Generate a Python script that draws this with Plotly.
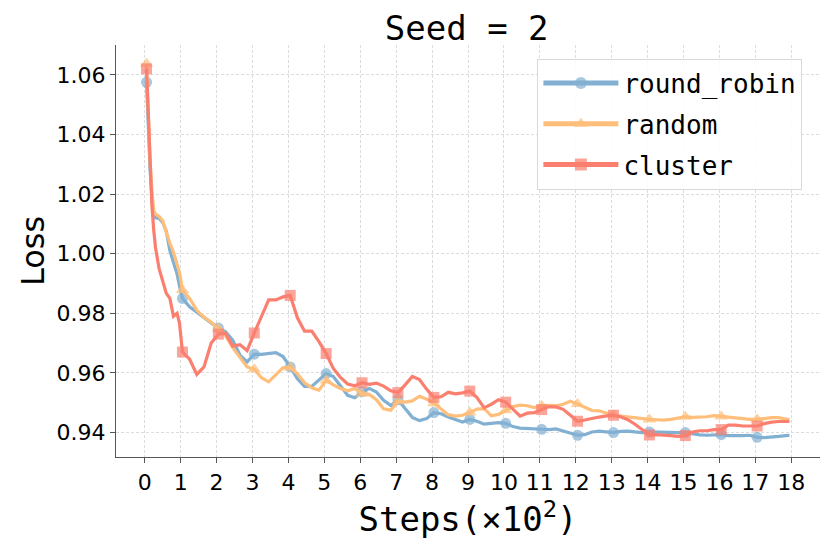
import plotly.graph_objects as go

# training steps in units of 100
steps = [
    0.05, 0.1, 0.15, 0.2, 0.25, 0.3, 0.4, 0.5, 0.6, 0.7, 0.8, 0.9, 0.97,
    1.05, 1.25, 1.45, 1.65, 1.85, 2.05, 2.25, 2.45, 2.65, 2.85,
    3.05, 3.25, 3.45, 3.65, 3.85, 4.05, 4.25, 4.45, 4.65, 4.85,
    5.05, 5.25, 5.45, 5.65, 5.85, 6.05, 6.25, 6.45, 6.65, 6.85,
    7.05, 7.25, 7.45, 7.65, 7.85, 8.05, 8.25, 8.45, 8.65, 8.85,
    9.05, 9.25, 9.45, 9.65, 9.85, 10.05, 10.25, 10.45, 10.65, 10.85,
    11.05, 11.25, 11.45, 11.65, 11.85, 12.05, 12.25, 12.45, 12.65, 12.85,
    13.05, 13.25, 13.45, 13.65, 13.85, 14.05, 14.25, 14.45, 14.65, 14.85,
    15.05, 15.25, 15.45, 15.65, 15.85, 16.05, 16.25, 16.45, 16.65, 16.85,
    17.05, 17.25, 17.45, 17.65, 17.85, 17.95,
]

round_robin = [
    1.0575, 1.040, 1.028, 1.019, 1.013, 1.012, 1.0118, 1.0105, 1.0075, 1.001, 0.9975, 0.9932, 0.989,
    0.985, 0.9822, 0.9803, 0.9787, 0.9768, 0.9751, 0.9738, 0.971, 0.966, 0.9637,
    0.9663, 0.9662, 0.9665, 0.9668, 0.9655, 0.962, 0.958, 0.9555, 0.9555, 0.9576,
    0.9598, 0.9588, 0.9555, 0.9525, 0.9517, 0.9537, 0.9548, 0.9536, 0.9508, 0.9491,
    0.951, 0.9479, 0.9451, 0.944, 0.9447, 0.9467, 0.9463, 0.9452, 0.9443, 0.9435,
    0.9444, 0.9438, 0.9428, 0.9431, 0.9433, 0.9431, 0.942, 0.9415, 0.9413, 0.9413,
    0.9411, 0.941, 0.9412, 0.9405, 0.9398, 0.9391, 0.9393, 0.9402, 0.9405, 0.9402,
    0.94, 0.9404, 0.9405, 0.9402, 0.94, 0.9402, 0.9401, 0.9402, 0.9401, 0.94,
    0.94, 0.9396, 0.9392, 0.9391, 0.9393, 0.9393, 0.939, 0.9389, 0.939, 0.9391,
    0.9384, 0.9383, 0.9384, 0.9387, 0.939, 0.9391,
]

random_ = [
    1.0637, 1.046, 1.031, 1.021, 1.0145, 1.0133, 1.0125, 1.011, 1.007, 1.0035, 1.0005, 0.996, 0.9935,
    0.9878, 0.985, 0.981, 0.9787, 0.977, 0.9748, 0.9725, 0.9685, 0.9652, 0.962,
    0.9612, 0.9584, 0.957, 0.9595, 0.9618, 0.9618, 0.9597, 0.9567, 0.955, 0.9542,
    0.9575, 0.956, 0.9548, 0.954, 0.9548, 0.953, 0.9528, 0.951, 0.948, 0.9475,
    0.9505, 0.9502, 0.9506, 0.9522, 0.9512, 0.9498, 0.948, 0.946, 0.9455, 0.9458,
    0.9467, 0.9479, 0.948, 0.9456, 0.9461, 0.9475, 0.9487, 0.9492, 0.949, 0.9484,
    0.949, 0.9491, 0.949, 0.9495, 0.9505, 0.9496, 0.9486, 0.9474, 0.9473, 0.9465,
    0.9458, 0.9455, 0.9452, 0.945, 0.9445, 0.9444, 0.9443, 0.9442, 0.9444, 0.9448,
    0.9453, 0.9451, 0.9451, 0.9453, 0.9457, 0.9454, 0.9453, 0.945, 0.9446, 0.9444,
    0.9444, 0.9448, 0.945, 0.945, 0.9446, 0.9443,
]

cluster = [
    1.062, 1.045, 1.028, 1.016, 1.008, 1.002, 0.995, 0.9905, 0.9867, 0.985, 0.979, 0.980, 0.9765,
    0.967, 0.9646, 0.9595, 0.962, 0.970, 0.973, 0.9733, 0.969, 0.9695, 0.9675,
    0.9734, 0.979, 0.9845, 0.9845, 0.9855, 0.986, 0.9785, 0.974, 0.974, 0.9705,
    0.9665, 0.9615, 0.9585, 0.9563, 0.9557, 0.9567, 0.9562, 0.9566, 0.9556, 0.954,
    0.9534, 0.956, 0.9588, 0.9578, 0.9545, 0.9518, 0.952, 0.9535, 0.953, 0.9533,
    0.9539, 0.9517, 0.9483, 0.9495, 0.951, 0.9502, 0.948, 0.9455, 0.9465, 0.9467,
    0.9477, 0.9487, 0.9486, 0.9478, 0.9458, 0.9438, 0.9442, 0.9448, 0.9452, 0.9456,
    0.9458, 0.9453, 0.9443, 0.9428, 0.941, 0.9392, 0.9393, 0.9392, 0.939, 0.9387,
    0.939, 0.9402, 0.9406, 0.9406, 0.941, 0.941, 0.9425, 0.9425, 0.9422, 0.9422,
    0.9422, 0.943, 0.9435, 0.9437, 0.9437, 0.9437,
]

x_ticks = list(range(0, 19))
y_ticks = [0.94, 0.96, 0.98, 1.00, 1.02, 1.04, 1.06]

series = [
    ("round_robin", round_robin, "#82B0D2", "circle", 11),
    ("random", random_, "#FFBE7A", "triangle-up", 12),
    ("cluster", cluster, "#FA7F6F", "square", 11),
]

MONO = "DejaVu Sans Mono"
SANS = "DejaVu Sans"

fig = go.Figure()

for name, values, color, symbol, size in series:
    # one marker every 100 steps, like matplotlib's markevery
    sizes = [size if round(s * 100) % 100 == 5 else 0 for s in steps]
    fig.add_trace(
        go.Scatter(
            x=steps,
            y=values,
            name=name,
            legendgroup=name,
            mode="lines+markers",
            line=dict(color=color, width=3.2),
            marker=dict(symbol=symbol, size=sizes, color=color, line=dict(width=0)),
        )
    )

axis_common = dict(
    showline=True,
    linecolor="#555555",
    linewidth=1.3,
    ticks="outside",
    ticklen=5,
    tickcolor="#555555",
    showgrid=True,
    gridcolor="#dcdcdc",
    gridwidth=1,
    griddash="3px,2px",
    zeroline=False,
    automargin=False,
    tickfont=dict(family=SANS, size=22, color="black"),
)

fig.update_xaxes(
    range=[-0.8, 18.8],
    tickvals=x_ticks,
    title=dict(
        text="Steps(×10<sup>2</sup>)",
        font=dict(family=MONO, size=34, color="black"),
        standoff=8,
    ),
    **axis_common,
)
fig.update_yaxes(
    range=[0.9318, 1.0700],
    tickvals=y_ticks,
    tickformat=".2f",
    title=dict(
        text="Loss",
        font=dict(family=SANS, size=32, color="black"),
        standoff=2,
    ),
    **axis_common,
)

# the page adds an 8px body margin, so the figure is drawn a bit smaller
fig.update_layout(
    width=822,
    height=546,
    margin=dict(l=108, r=10, t=37, b=97),
    paper_bgcolor="white",
    plot_bgcolor="white",
    title=dict(
        text="Seed = 2",
        x=0.558,
        xanchor="center",
        y=0.963,
        yanchor="middle",
        font=dict(family=MONO, size=34, color="black"),
    ),
    legend=dict(
        x=0.975,
        y=0.967,
        xanchor="right",
        yanchor="top",
        bgcolor="rgba(255,255,255,0.9)",
        bordercolor="#d9d9d9",
        borderwidth=1,
        font=dict(family=MONO, size=26, color="black"),
        itemsizing="constant",
        itemwidth=75,
        traceorder="grouped",
        tracegroupgap=4,
    ),
    showlegend=True,
)

fig.write_html("out.html")
